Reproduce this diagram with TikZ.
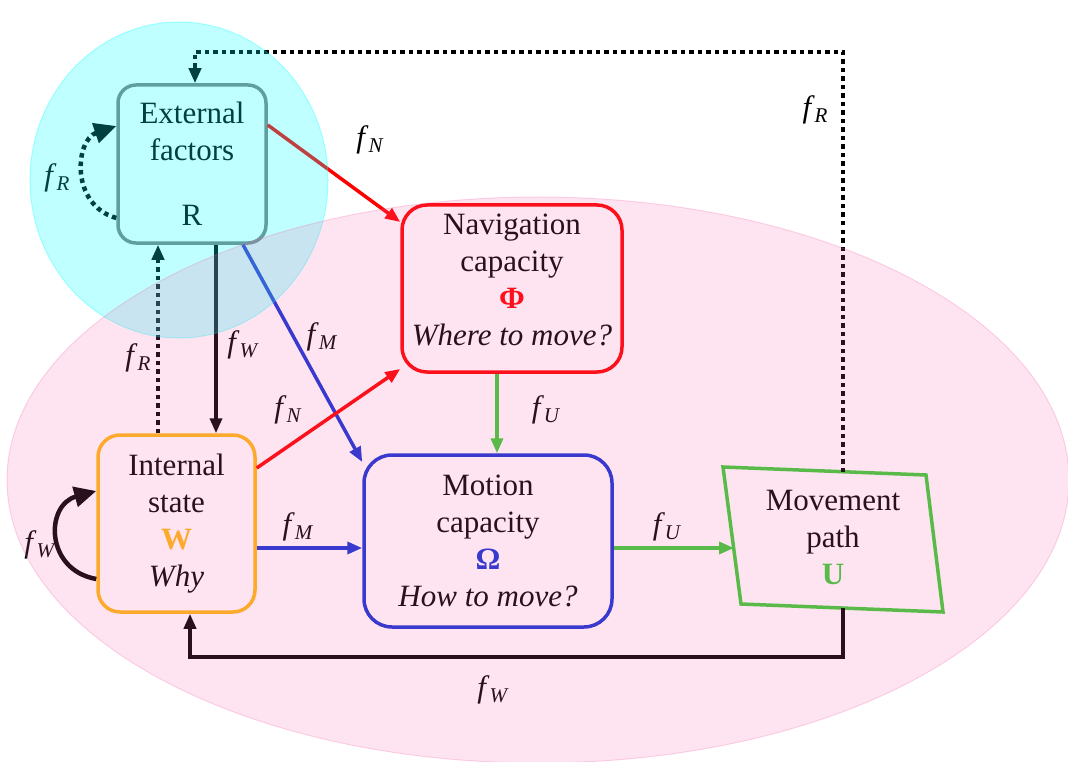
\documentclass[tikz,border=0pt]{standalone}
\usepackage{fontspec}
\setmainfont{Liberation Serif}
\usetikzlibrary{arrows.meta}

\definecolor{navred}{RGB}{255,0,0}
\definecolor{motblue}{RGB}{20,50,215}
\definecolor{intorange}{RGB}{255,185,20}
\definecolor{pathgreen}{RGB}{60,205,55}
\definecolor{extgrey}{RGB}{128,128,128}
\definecolor{zonepink}{RGB}{243,96,167}
\definecolor{zonecyan}{RGB}{0,255,255}

\newcommand{\fsub}[1]{\textit{f}\raisebox{-0.35ex}{\fontsize{21}{21}\selectfont\textit{#1}}}

\begin{document}
\begin{tikzpicture}[x=1pt, y=-1pt,
    font=\fontsize{31}{37}\selectfont,
    box/.style={draw, line width=3.5pt, align=center, inner sep=0pt},
    link/.style={line width=3.5pt, -{Triangle[length=15pt,width=12pt]}},
    dotlink/.style={line width=4.5pt, dash pattern=on 4.5pt off 4pt, -{Triangle[length=15pt,width=12pt]}},
    bigtip/.style={-{Triangle[length=22pt,width=20pt]}},
    lbl/.style={inner sep=0pt}]
        \useasboundingbox (0,0) rectangle (1068,762);

        % Boxes
        \node[box, draw=extgrey, rounded corners=18pt, minimum width=148pt, minimum height=158pt] (ext) at (192,164)
            {External\\factors\\[28pt]R};
        \node[box, draw=navred, rounded corners=25pt, minimum width=220pt, minimum height=167pt] (nav) at (512,288.5)
            {Navigation\\capacity\\{\color{navred}\textbf{Φ}}\\\textit{Where to move?}\rule[-18pt]{0pt}{0pt}};
        \node[box, draw=intorange, rounded corners=22pt, minimum width=157pt, minimum height=177pt] (int) at (176.5,523.5)
            {Internal\\state\\{\color{intorange}\textbf{W}}\\\textit{Why}};
        \node[box, draw=motblue, rounded corners=28pt, minimum width=248pt, minimum height=172pt] (mot) at (488,541)
            {Motion\\capacity\\{\color{motblue}\textbf{Ω}}\\\textit{How to move?}};

        % Movement path (slanted)
        \node[align=center, inner sep=0pt] (mov) at (833,537) {Movement\\path\\{\color{pathgreen}\textbf{U}}};
        \draw[pathgreen, line width=3.5pt] (723,467) -- (926,475) -- (943,612) -- (741,604) -- cycle;
        \coordinate (movin) at (734,548);
        \coordinate (movtop) at (843,472);
        \coordinate (movbot) at (843,608);

        % Arrows
        \draw[link, navred] (ext.east |- 0,125) -- (nav.west |- 0,222);
        \draw[link, motblue] (243,0 |- ext.south) -- (mot.west |- 0,462);
        \draw[link] (216,0 |- ext.south) -- (216,0 |- int.north);
        \draw[dotlink] (158,0 |- int.north) -- (158,0 |- ext.south);
        \draw[link, navred] (int.east |- 0,468) -- (nav.west |- 0,369);
        \draw[link, motblue] (int.east |- 0,548) -- (mot.west |- 0,548);
        \draw[link, pathgreen] (497,0 |- nav.south) -- (497,0 |- mot.north);
        \draw[link, pathgreen] (mot.east |- 0,548) -- (movin);
        \draw[link] (movbot) -- (843,657) -| (190,0 |- int.south);
        \draw[dotlink] (movtop) |- (195,52) -- (195,0 |- ext.north);

        % Self loops
        \draw[dotlink, bigtip] (ext.west |- 0,218) .. controls (70,205) and (75,140) .. (ext.west |- 0,126);
        \draw[link, bigtip, line width=4.5pt] (int.west |- 0,579) .. controls (45,570) and (45,505) .. (int.west |- 0,491);

        % Labels
        \node[lbl] (fNa) at (370,140) {\fsub{N}};
        \node[lbl] (fRa) at (57,178) {\fsub{R}};
        \node[lbl] (fRb) at (815,110) {\fsub{R}};
        \node[lbl] (fRc) at (138,358) {\fsub{R}};
        \node[lbl] (fWa) at (243,345) {\fsub{W}};
        \node[lbl] (fMa) at (322,337) {\fsub{M}};
        \node[lbl] (fNb) at (288,410) {\fsub{N}};
        \node[lbl] (fUa) at (546,410) {\fsub{U}};
        \node[lbl] (fMb) at (298,527) {\fsub{M}};
        \node[lbl] (fUb) at (667,527) {\fsub{U}};
        \node[lbl] (fWb) at (493,690) {\fsub{W}};
        \node[lbl] (fWc) at (40,545) {\fsub{W}};

        % Zones
        \filldraw[fill=zonecyan, draw=zonecyan, fill opacity=0.25, draw opacity=0.3, line width=1pt]
            (179,180) ellipse [x radius=149pt, y radius=158pt];
        \filldraw[fill=zonepink, draw=zonepink, fill opacity=0.17, draw opacity=0.25, line width=1pt]
            (538,480) ellipse [x radius=531pt, y radius=283pt];
    \end{tikzpicture}
\end{document}
